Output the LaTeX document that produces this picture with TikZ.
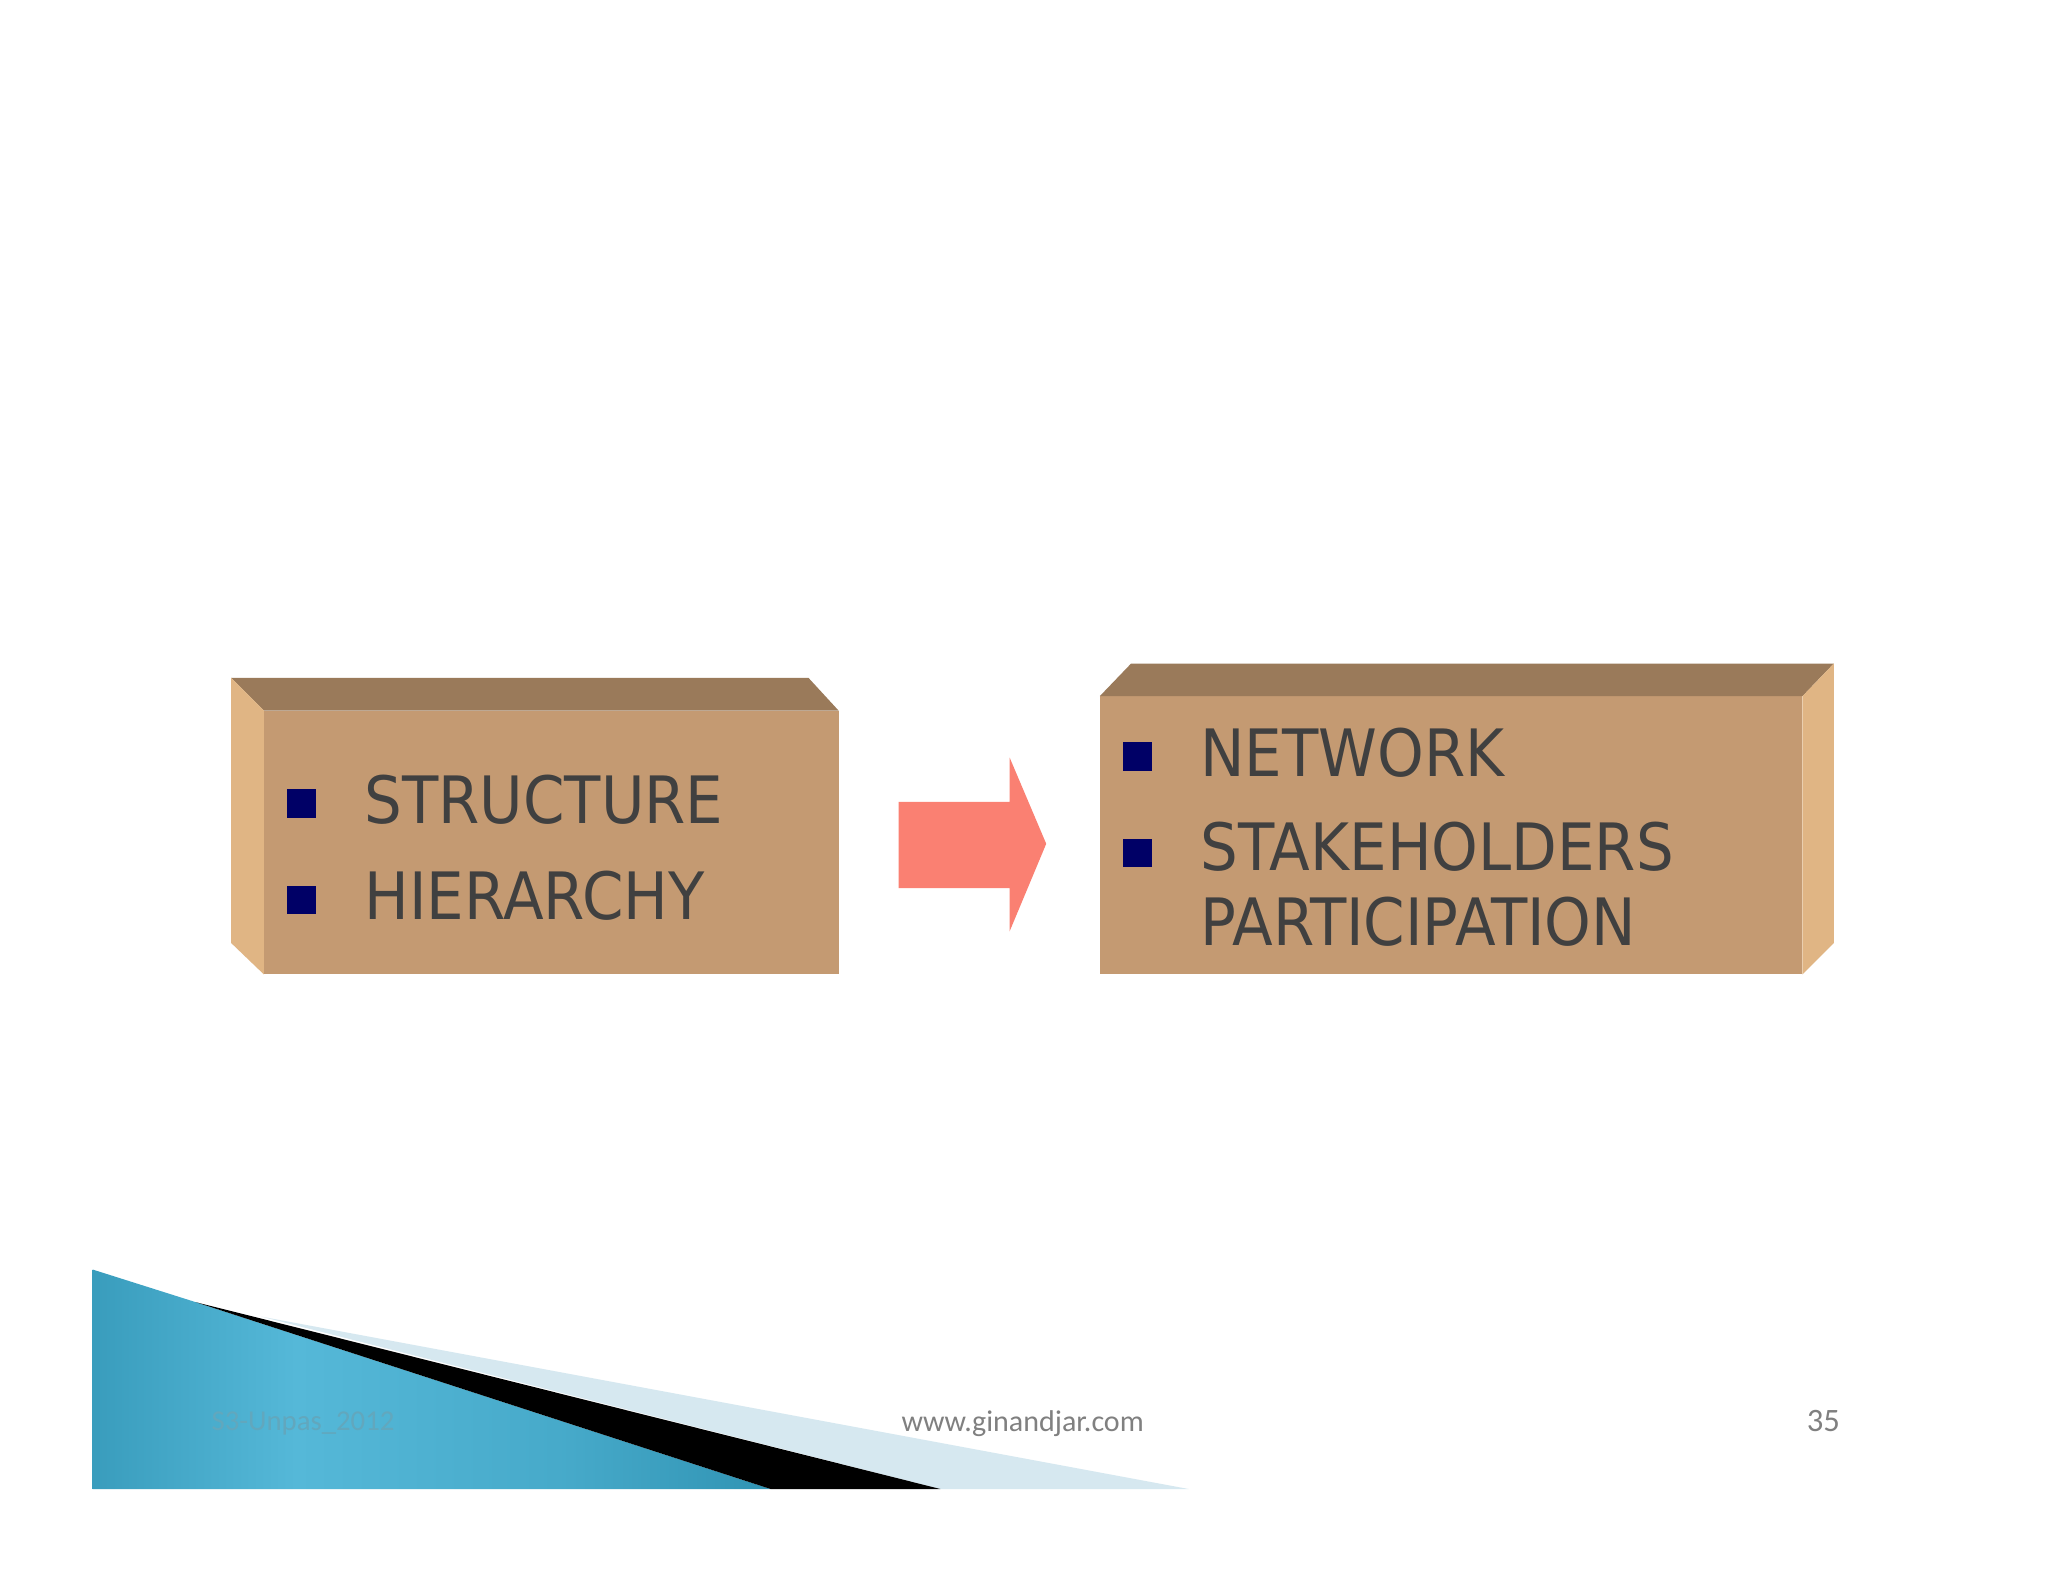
\documentclass[tikz,border=0pt]{standalone}
\usepackage{fontspec}
\setmainfont{DejaVu Sans}
\newfontfamily\foot{Carlito}
\definecolor{front}{HTML}{C49A72}
\definecolor{topc}{HTML}{9A7A5A}
\definecolor{side}{HTML}{E0B584}
\definecolor{txt}{HTML}{404040}
\definecolor{bul}{HTML}{000066}
\definecolor{arr}{HTML}{FA8072}
\definecolor{teald}{HTML}{0B6F8F}
\definecolor{teall}{HTML}{55B8D8}
\definecolor{pale}{HTML}{D6E8F0}
\pgfdeclarehorizontalshading{bluebar}{100bp}{color(0bp)=(teald); color(40bp)=(teall); color(60bp)=(teall!80!teald); color(100bp)=(teald)}
\begin{document}
\begin{tikzpicture}[x=0.5pt,y=-0.5pt,
  lbl/.style={anchor=west,text=txt,font=\fontsize{25}{30}\selectfont\addfontfeature{FakeStretch=0.91}},
  bullet/.style={fill=bul,minimum size=11pt,inner sep=0pt}]
\useasboundingbox (0,0) rectangle (1568,1211);
\fill[white] (0,0) rectangle (1568,1211);
% left box
\fill[front] (202,544) rectangle (642,746);
\fill[topc] (177,519)--(619,519)--(642,544)--(202,544)--cycle;
\fill[side] (177,519)--(202,544)--(202,746)--(177,722)--cycle;
% right box
\fill[front] (842,533) rectangle (1380,746);
\fill[topc] (842,533)--(866,508)--(1404,508)--(1380,533)--cycle;
\fill[side] (1380,533)--(1404,508)--(1404,722)--(1380,746)--cycle;
% arrow
\fill[arr] (688,614)--(773,614)--(773,580)--(801,646)--(773,713)--(773,680)--(688,680)--cycle;
% bullets & text
\node[bullet] (b1) at (231,615) {};
\node[bullet] (b2) at (231,689) {};
\node[lbl] (t1) at (272,612) {STRUCTURE};
\node[lbl] (t2) at (272,686) {HIERARCHY};
\node[bullet] (b3) at (871,579) {};
\node[bullet] (b4) at (871,653) {};
\node[lbl] (t3) at (912,576) {NETWORK};
\node[lbl,align=left,anchor=north west] (t4) at (912,622) {STAKEHOLDERS\\[-1pt]PARTICIPATION};
% bottom decoration
\fill[pale] (200,1008)--(910,1140)--(720,1140)--cycle;
\shade[shading=bluebar]
  (71,972)--(150,997)--(590,1140)--(71,1140)--cycle;
\fill[black] (150,997)--(720,1140)--(590,1140)--cycle;
\node[text=teall!70!gray,font=\foot\fontsize{11}{13}\selectfont] (f1) at (232,1090) {S3-Unpas\_2012};
\node[text=gray,font=\foot\fontsize{11.5}{13}\selectfont] (f2) at (783,1090) {www.ginandjar.com};
\node[text=gray,font=\foot\fontsize{12.5}{14}\selectfont] (f3) at (1396,1088) {35};
\end{tikzpicture}
\end{document}
